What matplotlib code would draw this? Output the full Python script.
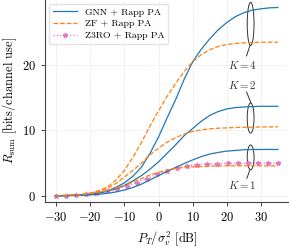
import matplotlib
matplotlib.use('Agg')
import matplotlib.pyplot as plt
from matplotlib.patches import Ellipse
import numpy as np

plt.rcParams['font.family'] = 'serif'
plt.rcParams['font.serif'] = ['cmr10', 'DejaVu Serif']
plt.rcParams['mathtext.fontset'] = 'cm'
plt.rcParams['axes.formatter.use_mathtext'] = True
plt.rcParams['axes.unicode_minus'] = True

# transmit SNR grid (dB) for GNN / ZF curves
snr_db = np.arange(-30, 35.1, 2.5)

gnn_k4 = [0.03, 0.06, 0.10, 0.18, 0.30, 0.50, 0.80, 1.30, 2.00, 3.00, 4.40, 6.50, 9.00,
          11.90, 14.70, 17.80, 20.50, 22.40, 24.00, 25.40, 26.50, 27.40, 28.00, 28.40,
          28.60, 28.75, 28.80]
zf_k4 = [0.05, 0.09, 0.15, 0.25, 0.45, 0.80, 1.35, 2.40, 3.90, 5.90, 8.20, 10.70, 13.00,
         15.20, 17.20, 19.00, 20.50, 21.60, 22.35, 22.85, 23.15, 23.30, 23.40, 23.45,
         23.50, 23.50, 23.50]
gnn_k2 = [0.03, 0.05, 0.08, 0.15, 0.25, 0.42, 0.70, 1.10, 1.60, 2.30, 3.10, 4.10, 5.20,
          6.50, 7.80, 9.20, 10.30, 11.40, 12.30, 12.90, 13.30, 13.50, 13.60, 13.65,
          13.70, 13.70, 13.70]
zf_k2 = [0.04, 0.07, 0.12, 0.22, 0.40, 0.70, 1.15, 1.90, 2.90, 3.90, 5.00, 6.30, 7.30,
         8.20, 8.90, 9.45, 9.85, 10.10, 10.25, 10.35, 10.40, 10.45, 10.50, 10.50,
         10.55, 10.55, 10.55]
gnn_k1 = [0.02, 0.03, 0.05, 0.09, 0.15, 0.25, 0.40, 0.60, 0.90, 1.30, 1.80, 2.45, 3.10,
          3.75, 4.35, 4.95, 5.50, 6.00, 6.40, 6.65, 6.85, 6.95, 7.05, 7.10, 7.10, 7.10, 7.10]
zf_k1 = [0.03, 0.05, 0.10, 0.20, 0.35, 0.55, 0.80, 1.15, 1.60, 2.10, 2.65, 3.20, 3.60,
         3.95, 4.20, 4.35, 4.45, 4.50, 4.55, 4.60, 4.60, 4.60, 4.60, 4.60, 4.60, 4.60, 4.60]

# Z3RO (K = 1) has its own grid
z3ro_db = np.linspace(-30, 35, 23)
z3ro_k1 = [0.03, 0.06, 0.12, 0.24, 0.42, 0.70, 1.05, 1.50, 2.05, 2.65, 3.30, 3.85,
           4.30, 4.60, 4.80, 4.90, 4.95, 5.00, 5.00, 5.00, 5.00, 5.00, 5.00]

# annotation groups: (label, ellipse centre, ellipse height, text pos, line start, line end)
groups = [
    ('$K=4$', 26.3, 6.6, (24.7, 20.0), (26.8, 23.0), (25.8, 21.4)),
    ('$K=2$', 11.9, 4.6, (24.7, 16.9), (25.8, 15.9), (27.1, 14.2)),
    ('$K=1$', 5.9, 3.8, (24.7, 1.6), (26.8, 4.0), (25.9, 2.7)),
]
ell_x = 27.0

blue, orange, pink = '#1f77b4', '#ff7f0e', '#e377c2'

fig = plt.figure(figsize=(2.89, 2.47), dpi=100)
ax = fig.add_axes([0.156, 0.183, 0.844, 0.817])

ax.grid(True, color='#e6e6e6', linestyle='--', linewidth=0.5)
ax.set_axisbelow(True)

ax.plot(snr_db, gnn_k4, color=blue, lw=0.9, label='GNN + Rapp PA')
ax.plot(snr_db, zf_k4, color=orange, lw=0.9, ls='--', label='ZF + Rapp PA')
ax.plot(z3ro_db, z3ro_k1, color=pink, lw=0.9, ls=':', marker='*', ms=3.5,
        label='Z3RO + Rapp PA')
for g, z in [(gnn_k2, zf_k2), (gnn_k1, zf_k1)]:
    ax.plot(snr_db, g, color=blue, lw=0.9)
    ax.plot(snr_db, z, color=orange, lw=0.9, ls='--')

for label, yc, h, tpos, p0, p1 in groups:
    ax.add_patch(Ellipse((ell_x, yc), 2.0, h, fill=False, edgecolor='#333333', lw=0.7))
    ax.plot([p0[0], p1[0]], [p0[1], p1[1]], color='#333333', lw=0.7)
    ax.text(tpos[0], tpos[1], label, fontsize=8, color='#333333', ha='center', va='center')

ax.set_xlim(-33.25, 38.25)
ax.set_ylim(-0.9, 29.95)
ax.set_xticks([-30, -20, -10, 0, 10, 20, 30])
ax.set_yticks([0, 10, 20])
for s in ['top', 'right']:
    ax.spines[s].set_visible(False)
for s in ['left', 'bottom']:
    ax.spines[s].set_color('#444444')
    ax.spines[s].set_linewidth(0.8)
ax.tick_params(labelsize=9, length=3, width=0.7, color='#444444')

ax.set_xlabel(r'$P_T/\sigma_v^2$ [dB]', fontsize=9)
ax.set_ylabel(r'$R_\mathrm{sum}$ [bits/channel use]', fontsize=9, labelpad=2)

ax.legend(loc='upper left', fontsize=7, handlelength=2.5, edgecolor='#dddddd',
          fancybox=True, borderaxespad=0.4, labelspacing=0.3)

fig.savefig('out.png', dpi=100)
